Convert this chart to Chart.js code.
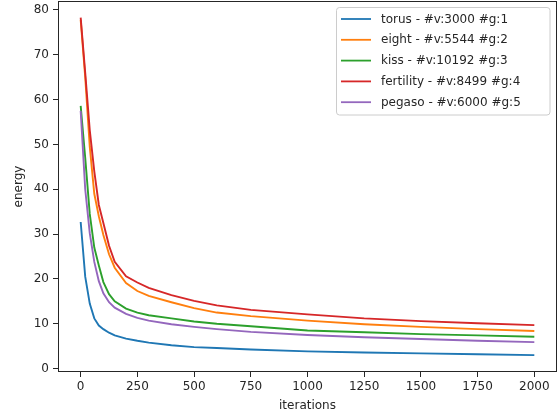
<!DOCTYPE html>
<html>
<head>
<meta charset="utf-8">
<script src="https://cdn.jsdelivr.net/npm/chart.js@4/dist/chart.umd.min.js"></script>
<style>
  html, body { margin: 0; padding: 0; background: #fff; }
  canvas { display: block; }
</style>
</head>
<body>
<canvas id="energyChart" width="560" height="419"></canvas>
<script>
// sampled iterations shared by every run
const iterations = [0, 20, 40, 60, 80, 100, 125, 150, 200, 250, 300, 400, 500, 600, 750, 1000, 1250, 1500, 1750, 2000];

const torus     = [32.7, 20.5, 14.5, 11.2, 9.6, 8.8, 8.0, 7.4, 6.7, 6.2, 5.8, 5.2, 4.8, 4.6, 4.25, 3.85, 3.6, 3.4, 3.2, 3.0];
const eight     = [77.8, 65.0, 49.5, 39.0, 34.0, 29.8, 25.5, 22.5, 19.1, 17.3, 16.2, 14.8, 13.5, 12.5, 11.7, 10.7, 9.9, 9.3, 8.8, 8.4];
const kiss      = [58.6, 47.0, 34.5, 27.0, 23.0, 19.3, 16.6, 15.0, 13.4, 12.5, 11.9, 11.2, 10.5, 10.0, 9.45, 8.5, 8.1, 7.7, 7.4, 7.1];
const fertility = [78.3, 66.0, 53.2, 44.0, 36.5, 32.5, 27.4, 23.8, 20.6, 19.2, 18.0, 16.4, 15.1, 14.1, 13.1, 12.1, 11.2, 10.6, 10.1, 9.7];
const pegaso    = [57.5, 40.0, 30.2, 23.8, 19.5, 16.8, 14.8, 13.6, 12.2, 11.3, 10.7, 9.9, 9.3, 8.8, 8.2, 7.5, 7.0, 6.6, 6.2, 5.9];

const seriesLabels = [
  'torus - #v:3000 #g:1',
  'eight - #v:5544 #g:2',
  'kiss - #v:10192 #g:3',
  'fertility - #v:8499 #g:4',
  'pegaso - #v:6000 #g:5'
];
const seriesValues = [torus, eight, kiss, fertility, pegaso];
const palette = ['#1f77b4', '#ff7f0e', '#2ca02c', '#d62728', '#9467bd'];

const xTicks = [0, 250, 500, 750, 1000, 1250, 1500, 1750, 2000];
const yTicks = [0, 10, 20, 30, 40, 50, 60, 70, 80];

const FONT = 'DejaVu Sans';
const INK = '#262626';

// matplotlib-like frame + legend box in the upper right
const framePlugin = {
  id: 'frameAndLegend',
  afterDraw(chart) {
    const ctx = chart.ctx;
    const a = chart.chartArea;
    ctx.save();
    ctx.strokeStyle = INK;
    ctx.lineWidth = 1;
    ctx.strokeRect(Math.round(a.left) + 0.5, Math.round(a.top) + 0.5,
      Math.round(a.right - a.left) - 1, Math.round(a.bottom - a.top) - 1);

    // legend
    const bx = 336.5, by = 7.5, bw = 213.5, bh = 107.5, r = 3;
    ctx.beginPath();
    ctx.moveTo(bx + r, by);
    ctx.arcTo(bx + bw, by, bx + bw, by + bh, r);
    ctx.arcTo(bx + bw, by + bh, bx, by + bh, r);
    ctx.arcTo(bx, by + bh, bx, by, r);
    ctx.arcTo(bx, by, bx + bw, by, r);
    ctx.closePath();
    ctx.fillStyle = 'rgba(255,255,255,0.8)';
    ctx.fill();
    ctx.strokeStyle = '#cccccc';
    ctx.stroke();

    ctx.font = '12px "' + FONT + '"';
    ctx.textBaseline = 'middle';
    ctx.textAlign = 'left';
    chart.data.datasets.forEach((ds, i) => {
      const yy = 19 + i * 20.8;
      ctx.strokeStyle = ds.borderColor;
      ctx.lineWidth = 1.8;
      ctx.beginPath();
      ctx.moveTo(341, yy);
      ctx.lineTo(371, yy);
      ctx.stroke();
      ctx.fillStyle = INK;
      ctx.fillText(ds.label, 381, yy + 0.5);
    });
    ctx.restore();
  }
};

new Chart(document.getElementById('energyChart'), {
  type: 'line',
  data: {
    datasets: seriesValues.map((vals, i) => ({
      label: seriesLabels[i],
      data: iterations.map((it, j) => ({ x: it, y: vals[j] })),
      borderColor: palette[i],
      backgroundColor: palette[i],
      borderWidth: 1.9,
      pointRadius: 0,
      tension: 0,
      fill: false,
      order: seriesValues.length - 1 - i
    }))
  },
  options: {
    responsive: false,
    animation: false,
    layout: { padding: { top: 1, right: 3, left: 0, bottom: 0 } },
    plugins: {
      legend: { display: false },
      tooltip: { enabled: false }
    },
    scales: {
      x: {
        type: 'linear',
        min: -100,
        max: 2100,
        afterBuildTicks: s => { s.ticks = xTicks.map(v => ({ value: v })); },
        afterFit: s => { s.height = 47; s.paddingLeft = 0; s.paddingRight = 0; },
        grid: { drawOnChartArea: false, drawTicks: true, tickLength: 5, tickColor: INK },
        border: { display: false },
        ticks: { color: INK, font: { family: FONT, size: 12 }, padding: 3, maxRotation: 0, autoSkip: false, callback: v => String(v) },
        title: { display: true, text: 'iterations', color: INK, font: { family: FONT, size: 12 }, padding: { top: 0, bottom: 6 } }
      },
      y: {
        type: 'linear',
        min: -0.76,
        max: 82,
        afterBuildTicks: s => { s.ticks = yTicks.map(v => ({ value: v })); },
        afterFit: s => { s.width = 58; s.paddingTop = 0; s.paddingBottom = 0; },
        grid: { drawOnChartArea: false, drawTicks: true, tickLength: 5, tickColor: INK },
        border: { display: false },
        ticks: { color: INK, font: { family: FONT, size: 12 }, padding: 4, autoSkip: false, callback: v => String(v) },
        title: { display: true, text: 'energy', color: INK, font: { family: FONT, size: 12 }, padding: { top: 11.5, bottom: 0 } }
      }
    }
  },
  plugins: [framePlugin]
});
</script>
</body>
</html>
